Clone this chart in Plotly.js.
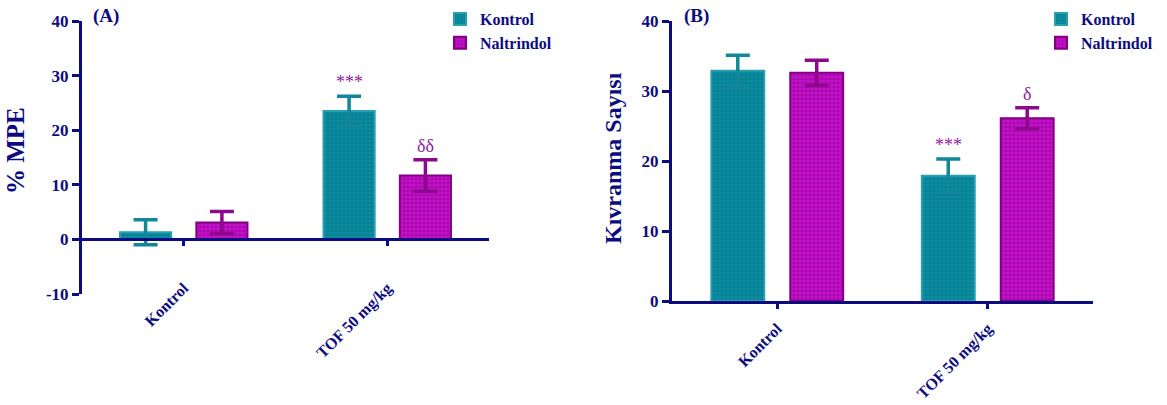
<!DOCTYPE html>
<html>
<head>
<meta charset="utf-8">
<script src="https://cdn.plot.ly/plotly-3.0.1.min.js"></script>
<style>
  html, body { margin: 0; padding: 0; background: #fff; }
  #chart { width: 1167px; height: 405px; }
</style>
</head>
<body>
<div id="chart"></div>
<script>
// Groups on the x axis
const groups = ['Kontrol', 'TOF 50 mg/kg'];

// (A) % MPE, mean and SEM
const mpeKontrol = [1.3, 23.5];
const mpeKontrolSem = [2.3, 2.7];
const mpeNaltrindol = [3.1, 11.7];
const mpeNaltrindolSem = [2.0, 2.9];

// (B) Kıvranma sayısı, mean and SEM
const kivKontrol = [32.9, 17.9];
const kivKontrolSem = [2.2, 2.4];
const kivNaltrindol = [32.6, 26.1];
const kivNaltrindolSem = [1.8, 1.5];

// Significance marks placed above each bar
const sigAKontrol = ['', '***'];
const sigANaltrindol = ['', 'δδ'];
const sigBKontrol = ['', '***'];
const sigBNaltrindol = ['', 'δ'];

// Y tick values and labels (plain hyphen for negatives)
const yTicksA = [-10, 0, 10, 20, 30, 40];
const yTickTextA = ['-10', '0', '10', '20', '30', '40'];
const yTicksB = [0, 10, 20, 30, 40];
const yTickTextB = ['0', '10', '20', '30', '40'];

const NAVY = '#0c0c80';
const TEAL = '#0b8ca0';
const TEAL_DARK = '#077585';
const TEAL_EDGE = '#2a9fb0';
const MAG = '#c412c9';
const MAG_DARK = '#8a008f';
const MAG_EDGE = '#820082';
const SIG = '#8e1a9c';
const SERIF = 'Liberation Serif, Times New Roman, serif';

const BARGAP = 0.25;
const BARGROUPGAP = 0.33;

function barTrace(name, y, sem, xa, ya, legend, fill, dark, edge, errColor) {
  return {
    type: 'bar', name: name, x: groups, y: y,
    xaxis: xa, yaxis: ya, legend: legend,
    marker: {
      color: fill,
      line: {color: edge, width: 2},
      pattern: {shape: '.', fillmode: 'overlay', bgcolor: fill, fgcolor: dark, size: 4, solidity: 0.5}
    },
    error_y: {type: 'data', array: sem, visible: true, color: errColor, thickness: 3.5, width: 12},
    hoverinfo: 'skip'
  };
}

const data = [
  barTrace('Kontrol', mpeKontrol, mpeKontrolSem, 'x', 'y', 'legend', TEAL, TEAL_DARK, TEAL_EDGE, '#138797'),
  barTrace('Naltrindol', mpeNaltrindol, mpeNaltrindolSem, 'x', 'y', 'legend', MAG, MAG_DARK, MAG_EDGE, '#8b0a8b'),
  barTrace('Kontrol', kivKontrol, kivKontrolSem, 'x2', 'y2', 'legend2', TEAL, TEAL_DARK, TEAL_EDGE, '#138797'),
  barTrace('Naltrindol', kivNaltrindol, kivNaltrindolSem, 'x2', 'y2', 'legend2', MAG, MAG_DARK, MAG_EDGE, '#8b0a8b')
];

// Panel layout (paper fractions)
const W = 1167, H = 405;
const domXA = [82 / W, 489 / W];
const domYA = [(H - 294) / H, (H - 21) / H];
const domXB = [672 / W, 1093 / W];
const domYB = [(H - 301) / H, (H - 21) / H];
const rangeA = [-10, 40];
const rangeB = [0, 40];

// x axis of panel A crosses at y = 0
const zeroPosA = domYA[0] + (0 - rangeA[0]) / (rangeA[1] - rangeA[0]) * (domYA[1] - domYA[0]);

const tickFont = {family: SERIF, size: 17, color: NAVY, weight: 'bold'};
const catFont = {family: SERIF, size: 16, color: NAVY, weight: 'bold'};

function yAxis(domain, range, anchor, vals, text) {
  return {
    domain: domain, range: range, anchor: anchor,
    tickmode: 'array', tickvals: vals, ticktext: text,
    showgrid: false, zeroline: false,
    showline: true, linecolor: NAVY, linewidth: 3,
    ticks: 'outside', ticklen: 7, tickwidth: 3, tickcolor: NAVY,
    tickfont: tickFont, fixedrange: true
  };
}

// Significance annotations from the bar values
const slot = (1 - BARGAP) / 2;
const annotations = [];
function addSig(marks, means, sems, side, xref, yref, size) {
  marks.forEach((m, i) => {
    if (!m) return;
    annotations.push({
      xref: xref, yref: yref, x: i + side * slot / 2, y: means[i] + sems[i],
      text: m, showarrow: false, yanchor: 'bottom', yshift: 2,
      font: {family: SERIF, size: size, color: SIG}
    });
  });
}
addSig(sigAKontrol, mpeKontrol, mpeKontrolSem, -1, 'x', 'y', 18);
addSig(sigANaltrindol, mpeNaltrindol, mpeNaltrindolSem, 1, 'x', 'y', 18);
addSig(sigBKontrol, kivKontrol, kivKontrolSem, -1, 'x2', 'y2', 18);
addSig(sigBNaltrindol, kivNaltrindol, kivNaltrindolSem, 1, 'x2', 'y2', 18);

// Panel labels and axis titles
annotations.push(
  {xref: 'paper', yref: 'paper', x: 91 / W, y: 1 - 16 / H, text: '(A)', showarrow: false,
   xanchor: 'left', yanchor: 'middle', font: {family: SERIF, size: 19, color: NAVY, weight: 'bold'}},
  {xref: 'paper', yref: 'paper', x: 682 / W, y: 1 - 16 / H, text: '(B)', showarrow: false,
   xanchor: 'left', yanchor: 'middle', font: {family: SERIF, size: 19, color: NAVY, weight: 'bold'}},
  {xref: 'paper', yref: 'paper', x: 15 / W, y: 1 - 151 / H, text: '% MPE', showarrow: false, textangle: -90,
   xanchor: 'center', yanchor: 'middle', font: {family: SERIF, size: 25, color: NAVY, weight: 'bold'}},
  {xref: 'paper', yref: 'paper', x: 613 / W, y: 1 - 158 / H, text: 'Kıvranma Sayısı', showarrow: false, textangle: -90,
   xanchor: 'center', yanchor: 'middle', font: {family: SERIF, size: 24, color: NAVY, weight: 'bold'}}
);

const legendFont = {family: SERIF, size: 16, color: NAVY, weight: 'bold'};

const layout = {
  width: W, height: H,
  margin: {l: 0, r: 0, t: 0, b: 0, autoexpand: false},
  paper_bgcolor: '#fff', plot_bgcolor: 'rgba(0,0,0,0)',
  barmode: 'group', bargap: BARGAP, bargroupgap: BARGROUPGAP,
  xaxis: {
    domain: domXA, range: [-0.5, 1.5], type: 'category',
    anchor: 'free', position: zeroPosA,
    showline: true, linecolor: NAVY, linewidth: 3, showgrid: false, zeroline: false,
    ticks: 'outside', ticklen: 5, tickwidth: 3, tickcolor: NAVY,
    tickangle: -45, tickfont: catFont, ticklabelstandoff: 26, fixedrange: true
  },
  yaxis: yAxis(domYA, rangeA, 'x', yTicksA, yTickTextA),
  xaxis2: {
    domain: domXB, range: [-0.5, 1.5], type: 'category', anchor: 'y2',
    showline: true, linecolor: NAVY, linewidth: 3, showgrid: false, zeroline: false,
    ticks: 'outside', ticklen: 5, tickwidth: 3, tickcolor: NAVY,
    tickangle: -45, tickfont: catFont, ticklabelstandoff: 4, fixedrange: true
  },
  yaxis2: yAxis(domYB, rangeB, 'x2', yTicksB, yTickTextB),
  legend: {x: 440 / W, y: 1 - 2 / H, xanchor: 'left', yanchor: 'top', font: legendFont,
           bgcolor: 'rgba(0,0,0,0)', tracegroupgap: 0},
  legend2: {x: 1041 / W, y: 1 - 2 / H, xanchor: 'left', yanchor: 'top', font: legendFont,
            bgcolor: 'rgba(0,0,0,0)', tracegroupgap: 0},
  annotations: annotations,
  showlegend: true
};

Plotly.newPlot('chart', data, layout, {displayModeBar: false, staticPlot: true});
</script>
</body>
</html>
